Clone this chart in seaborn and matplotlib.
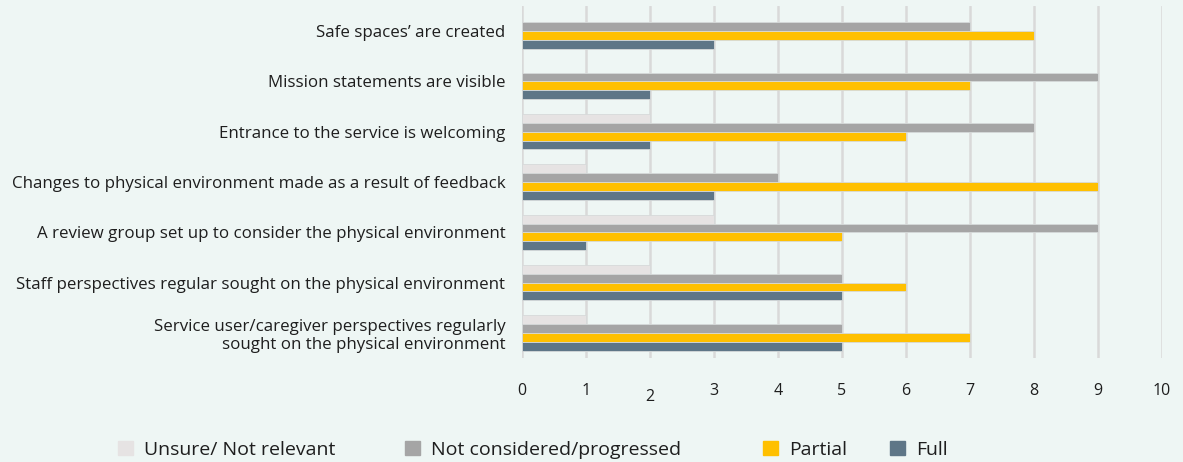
import matplotlib
matplotlib.use("Agg")
import matplotlib.pyplot as plt
import matplotlib.transforms as mtransforms
import seaborn as sns
import pandas as pd

categories = [
    "Safe spaces\u2019 are created",
    "Mission statements are visible",
    "Entrance to the service is welcoming",
    "Changes to physical environment made as a result of feedback",
    "A review group set up to consider the physical environment",
    "Staff perspectives regular sought on the physical environment",
    "Service user/caregiver perspectives regularly\nsought on the physical environment",
]
series_names = ["Unsure/ Not relevant", "Not considered/progressed", "Partial", "Full"]
unsure = [0, 0, 2, 1, 3, 2, 1]
not_considered = [7, 9, 8, 4, 9, 5, 5]
partial = [8, 7, 6, 9, 5, 6, 7]
full = [3, 2, 2, 3, 1, 5, 5]
x_ticks = [0, 1, 2, 3, 4, 5, 6, 7, 8, 9, 10]

colors = ["#e6e3e3", "#a5a5a5", "#ffc000", "#5e7687"]
bg = "#eef6f4"
text_color = "#1e1e1e"

df = pd.DataFrame({
    "category": categories * 4,
    "series": [s for s in series_names for _ in categories],
    "value": unsure + not_considered + partial + full,
})

sns.set_theme(style="white")
plt.rcParams["font.family"] = ["Open Sans", "DejaVu Sans"]

fig = plt.figure(figsize=(11.83, 4.62), dpi=100, facecolor=bg)
ax = fig.add_axes([0.4413, 0.225, 0.541, 0.762])
ax.set_facecolor(bg)

sns.barplot(
    data=df, x="value", y="category", hue="series",
    order=categories, hue_order=series_names, palette=colors,
    orient="h", width=0.7, ax=ax, legend=False,
    edgecolor="#d6dada", linewidth=0.6, saturation=1,
)

ax.set_xlim(0, 10)
ax.set_ylim(6.5, -0.5)
ax.set_xticks(x_ticks)
ax.set_xticklabels([str(t) for t in x_ticks])
ax.grid(axis="x", color="#d9d9d9", linewidth=1.8)
ax.grid(axis="y", visible=False)
ax.set_axisbelow(True)
for s in ax.spines.values():
    s.set_visible(False)
ax.set_xlabel("")
ax.set_ylabel("")
ax.tick_params(axis="x", length=0, pad=18, labelsize=11.5, labelcolor=text_color)
ax.tick_params(axis="y", length=0, pad=12, labelsize=12.2, labelcolor=text_color)
for lbl in ax.get_yticklabels():
    lbl.set_horizontalalignment("right")
    lbl.set_multialignment("right")

# the "2" tick label sits slightly lower than its neighbours
lab2 = ax.get_xticklabels()[2]
lab2.set_transform(lab2.get_transform() + mtransforms.ScaledTranslation(0, -4 / 72, fig.dpi_scale_trans))

# one legend entry per series, spread along the bottom
legend_x = [118, 405, 763, 890]
for name, color, xpix in zip(series_names, colors, legend_x):
    fig.legend(
        [plt.Rectangle((0, 0), 1, 1, color=color)], [name],
        loc="center left", bbox_to_anchor=(xpix / 1183, 0.027),
        frameon=False, fontsize=14, handlelength=0.75, handleheight=0.75,
        handletextpad=0.6, borderpad=0, borderaxespad=0, labelcolor=text_color,
    )

fig.savefig("out.png", dpi=100, facecolor=bg)
